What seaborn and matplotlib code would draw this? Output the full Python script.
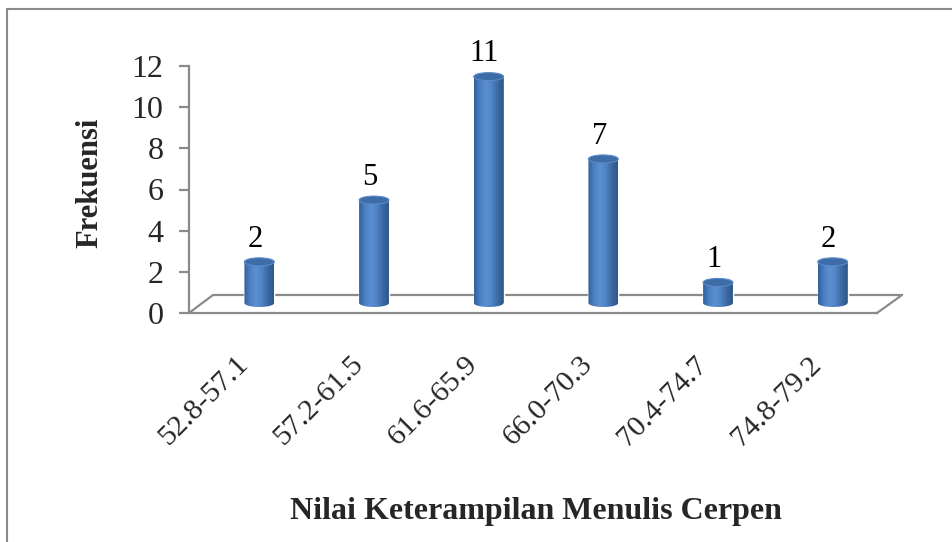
import numpy as np
import pandas as pd
import matplotlib
matplotlib.use("Agg")
import matplotlib.pyplot as plt
import seaborn as sns
from matplotlib.patches import Ellipse, Polygon, Rectangle
from matplotlib.lines import Line2D
from matplotlib.colors import LinearSegmentedColormap
from matplotlib.transforms import ScaledTranslation

# ---- data ----
categories = ["52.8-57.1", "57.2-61.5", "61.6-65.9", "66.0-70.3", "70.4-74.7", "74.8-79.2"]
frequencies = [2, 5, 11, 7, 1, 2]
y_ticks = [0, 2, 4, 6, 8, 10, 12]
x_title = "Nilai Keterampilan Menulis Cerpen"
y_title = "Frekuensi"

df = pd.DataFrame({"kelas": categories, "frekuensi": frequencies})

sns.set_theme(style="white")
plt.rcParams["font.family"] = ["Liberation Serif", "DejaVu Serif"]

W, H = 953, 542
fig = plt.figure(figsize=(W / 100, H / 100), dpi=100)
fig.patch.set_facecolor("white")


def rect(l, t, r, b):
    return [l / W, 1 - b / H, (r - l) / W, (b - t) / H]


GRAY = "#8a8a8a"
PXU = 20.58  # pixels per unit

# outer chart border
fig.add_artist(Rectangle((7 / W, -0.05), 1.2, 1 - 9 / H + 0.05,
                         transform=fig.transFigure, fill=False,
                         ec=GRAY, lw=1.5))

# axis frame (front plane)
ax0 = fig.add_axes(rect(189, 66, 877, 313))
ax0.set_facecolor("none")
ax0.set_ylim(0, 12)
ax0.set_xlim(0, 1)
ax0.set_yticks(y_ticks)
ax0.set_yticklabels([str(t) for t in y_ticks], fontsize=23)
ax0.set_xticks([])
for s in ["top", "right"]:
    ax0.spines[s].set_visible(False)
for s in ["left", "bottom"]:
    ax0.spines[s].set_color(GRAY)
    ax0.spines[s].set_linewidth(1.6)
ax0.tick_params(axis="y", direction="out", length=7.5, width=1.6,
                color=GRAY, pad=11, left=True)
ax0.set_ylabel(y_title, fontsize=22, fontweight="bold", va="center")
ax0.yaxis.set_label_coords((90 - 189) / 688, (313 - 183) / 247)
ax0.set_xlabel(x_title, fontsize=23, fontweight="bold", va="baseline")
ax0.xaxis.set_label_coords((536 - 189) / 688, (313 - 519) / 247)

# floor (3D base) in axes coordinates of ax0
dx0 = (213 - 189) / 688
dy0 = (313 - 295) / 247
floor = [((0, 0), (dx0, dy0)),
         ((dx0, dy0), (1 + (902 - 877) / 688, dy0)),
         ((1, 0), (1 + (902 - 877) / 688, dy0))]
for (a, b) in floor:
    ax0.add_line(Line2D([a[0], b[0]], [a[1], b[1]], transform=ax0.transAxes,
                        color=GRAY, lw=1.6, clip_on=False))

# bars (mid-depth plane)
ymin = -0.5
top_px = 303 - 12 * PXU
bot_px = 303 - ymin * PXU
ax = fig.add_axes(rect(202, top_px, 890, bot_px))
ax.set_facecolor("none")
ax.patch.set_alpha(0)
sns.barplot(data=df, x="kelas", y="frekuensi", ax=ax, color="#4A7EBB",
            width=0.26, saturation=1, zorder=1)
ax.set_ylim(ymin, 12)
ax.set_xlim(-0.5, len(categories) - 0.5)
for s in ax.spines.values():
    s.set_visible(False)
ax.set_yticks([])
ax.set_ylabel("")
ax.set_xlabel("")
ax.tick_params(axis="x", length=0, pad=34, bottom=False)

cmap = LinearSegmentedColormap.from_list(
    "cyl", ["#31609A", "#4B80C2", "#5C90D2", "#4F83C3", "#3A68A2", "#2C5788"])
grad = np.linspace(0, 1, 256).reshape(1, -1)
eh = 8 / PXU

for p, v in zip(ax.patches, frequencies):
    x0, w, h = p.get_x(), p.get_width(), p.get_height()
    xc = x0 + w / 2
    t = np.linspace(np.pi, 2 * np.pi, 60)
    pts = [(x0, h), (x0, 0)]
    pts += list(zip(xc + w / 2 * np.cos(t), eh / 2 * np.sin(t)))
    pts += [(x0 + w, 0), (x0 + w, h)]
    body = Polygon(pts, closed=True, transform=ax.transData, fc="none", ec="none")
    ax.add_patch(body)
    im = ax.imshow(grad, extent=[x0, x0 + w, -eh / 2, h], cmap=cmap,
                   aspect="auto", zorder=2, interpolation="bilinear")
    im.set_clip_path(body)
    ax.add_patch(Ellipse((xc, h), w, eh, angle=0, fc="#3D6CA6",
                         ec="#5A8BC8", lw=0.8, zorder=3))
    ax.annotate(str(v), (xc, h), xytext=(-3, 11), textcoords="offset points",
                ha="center", va="baseline", fontsize=22, color="black",
                zorder=4)

ax.set_ylim(ymin, 12)
ax.set_xlim(-0.5, len(categories) - 0.5)

shift = ScaledTranslation(-15 / 100, 0, fig.dpi_scale_trans)
for lbl in ax.get_xticklabels():
    lbl.set_rotation(45)
    lbl.set_ha("right")
    lbl.set_va("center")
    lbl.set_rotation_mode("anchor")
    lbl.set_fontsize(21.5)
    lbl.set_transform(lbl.get_transform() + shift)

fig.savefig("out.png", dpi=100)
